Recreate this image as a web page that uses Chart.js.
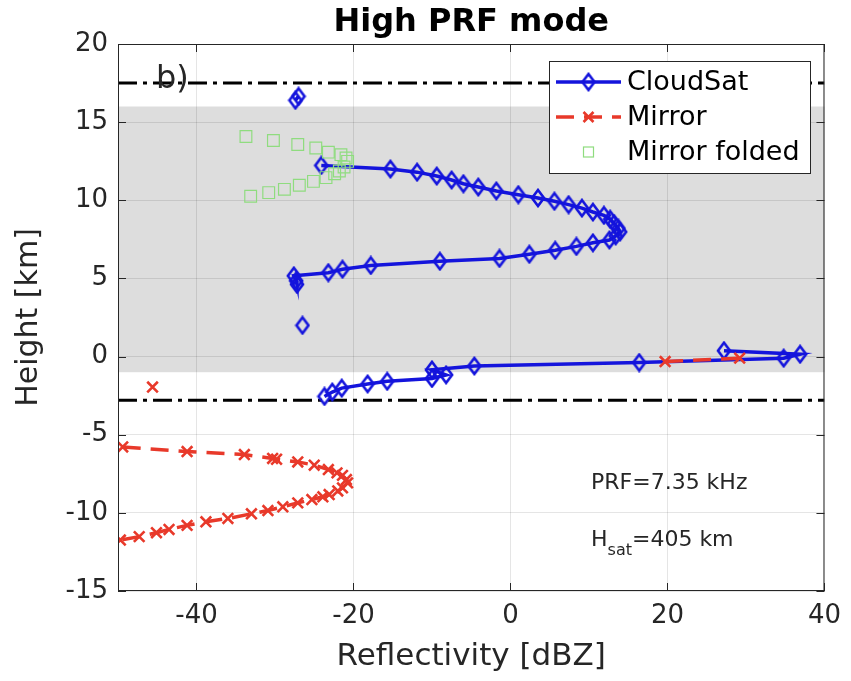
<!DOCTYPE html>
<html>
<head>
<meta charset="utf-8">
<script src="https://cdn.jsdelivr.net/npm/chart.js@4.4.1/dist/chart.umd.min.js"></script>
<style>
  html, body { margin: 0; padding: 0; background: #fff; }
  canvas { display: block; }
</style>
</head>
<body>
<canvas id="prfChart" width="851" height="681"></canvas>
<script>
// ---- data (reflectivity dBZ, height km); null = gap in the line ----
const cloudsatZ = [
  -27.0, -27.4, null,
  -24.1, -15.3, -11.9, -9.4, -7.5, -6.0, -4.1, -1.8, 1.0, 3.5, 5.6, 7.4, 9.1, 10.5, 11.9, 12.7, 13.2, 13.75, 13.97,
  13.4, 12.6, 10.5, 8.4, 5.7, 2.4, -1.4, -9.0, -17.8, -21.4, -23.2, -27.6, -27.3, -27.2, null,
  -26.5, null,
  27.2, 36.9, 34.8, 16.4, -4.6, -10.0, -8.2, -10.0, -15.7, -18.2, -21.5, -22.7, -23.7
];
const cloudsatH = [
  16.65, 16.4, null,
  12.23, 12.0, 11.8, 11.55, 11.3, 11.06, 10.85, 10.6, 10.36, 10.15, 9.94, 9.72, 9.5, 9.25, 9.04, 8.79, 8.51, 8.2, 7.98,
  7.72, 7.46, 7.28, 7.05, 6.8, 6.55, 6.28, 6.1, 5.83, 5.59, 5.37, 5.17, 4.85, 4.62, null,
  2.0, null,
  0.38, 0.15, -0.1, -0.38, -0.6, -0.85, -1.17, -1.4, -1.58, -1.75, -2.02, -2.27, -2.55
];

const mirrorZ = [
  19.7, 29.2, null,
  -45.6, null,
  -49.4, -41.2, -33.9, -30.3, -29.8, -27.1, -25.0, -23.2, -22.1, -21.4, -20.9, -20.75,
  -21.4, -22.0, -23.1, -23.9, -25.3, -27.1, -29.0, -30.9, -33.0, -36.0, -38.8, -41.2, -43.5, -45.1, -47.3, -49.7
];
const mirrorH = [
  -0.32, -0.1, null,
  -1.95, null,
  -5.78, -6.08, -6.27, -6.52, -6.57, -6.74, -6.95, -7.23, -7.44, -7.6, -7.87, -8.08,
  -8.4, -8.6, -8.83, -8.97, -9.15, -9.36, -9.61, -9.85, -10.06, -10.36, -10.57, -10.8, -11.06, -11.27, -11.52, -11.74
];

const foldedZ = [-33.7, -30.2, -27.1, -24.8, -23.2, -21.6, -20.95, -20.75, -21.2, -21.8, -22.4, -23.5, -25.1, -26.9, -28.8, -30.8, -33.1];
const foldedH = [14.08, 13.83, 13.57, 13.34, 13.08, 12.92, 12.7, 12.49, 12.13, 11.87, 11.7, 11.45, 11.21, 10.96, 10.7, 10.49, 10.26];

const refLineHeights = [17.5, -2.8];   // dash-dot lines
const bandLimits = [-1, 16];          // grey shaded height range
const xTickValues = [-40, -20, 0, 20, 40];
const yTickValues = [-15, -10, -5, 0, 5, 10, 15, 20];
const xRange = [-50, 40];
const yRange = [-15, 20];

const toPoints = (xs, ys) => xs.map((v, i) => ({ x: v, y: ys[i] }));

const FONT = "'DejaVu Sans', sans-serif";
const BLUE = '#1414dc';
const RED = '#e8392a';
const GREEN = '#8fdc7f';
const AXIS = '#262626';

// tall open diamond used as the CloudSat marker
function makeDiamond() {
  const c = document.createElement('canvas');
  c.width = 16; c.height = 20;
  const g = c.getContext('2d');
  g.strokeStyle = BLUE;
  g.lineWidth = 2.6;
  g.beginPath();
  g.moveTo(8, 2); g.lineTo(14, 10); g.lineTo(8, 18); g.lineTo(2, 10); g.closePath();
  g.stroke();
  return c;
}
const diamond = makeDiamond();

const datasets = [
  {
    label: 'Mirror folded',
    data: toPoints(foldedZ, foldedH),
    showLine: false,
    pointStyle: 'rect',
    pointRadius: 8.3,
    pointBorderWidth: 1.2,
    pointBorderColor: GREEN,
    pointBackgroundColor: 'rgba(0,0,0,0)',
    order: 1
  },
  {
    label: 'Mirror',
    data: toPoints(mirrorZ, mirrorH),
    showLine: true,
    borderColor: RED,
    borderWidth: 3.5,
    borderDash: [18, 10],
    pointStyle: 'crossRot',
    pointRadius: 7.5,
    pointBorderWidth: 2.6,
    pointBorderColor: RED,
    order: 2
  },
  {
    label: 'CloudSat',
    data: toPoints(cloudsatZ, cloudsatH),
    showLine: true,
    borderColor: BLUE,
    borderWidth: 3.5,
    pointStyle: diamond,
    order: 3
  }
];
refLineHeights.forEach((h, i) => {
  datasets.push({
    label: 'ref' + i,
    data: toPoints(xRange, [h, h]),
    showLine: true,
    borderColor: '#000',
    borderWidth: 3,
    borderDash: [19, 6, 4, 6],
    pointRadius: 0,
    order: 4
  });
});

const decor = {
  id: 'decor',
  beforeDraw(chart) {
    const { ctx, chartArea: a, scales: { y } } = chart;
    const top = y.getPixelForValue(bandLimits[1]);
    const bottom = y.getPixelForValue(bandLimits[0]);
    ctx.save();
    ctx.fillStyle = '#dddddd';
    ctx.fillRect(a.left, top, a.right - a.left, bottom - top);
    ctx.restore();
  },
  afterDraw(chart) {
    const { ctx, chartArea: a, scales: { x, y } } = chart;
    ctx.save();
    // axes box + inward ticks
    ctx.strokeStyle = AXIS;
    ctx.lineWidth = 1;
    ctx.strokeRect(a.left + 0.5, a.top + 0.5, a.right - a.left - 1, a.bottom - a.top - 1);
    ctx.beginPath();
    xTickValues.forEach(v => {
      const px = Math.round(x.getPixelForValue(v)) + 0.5;
      ctx.moveTo(px, a.bottom); ctx.lineTo(px, a.bottom - 8);
      ctx.moveTo(px, a.top); ctx.lineTo(px, a.top + 8);
    });
    yTickValues.forEach(v => {
      const py = Math.round(y.getPixelForValue(v)) + 0.5;
      ctx.moveTo(a.left, py); ctx.lineTo(a.left + 8, py);
      ctx.moveTo(a.right, py); ctx.lineTo(a.right - 8, py);
    });
    ctx.stroke();

    // title
    ctx.fillStyle = '#000';
    ctx.font = 'bold 32px ' + FONT;
    ctx.textAlign = 'center';
    ctx.textBaseline = 'alphabetic';
    ctx.fillText('High PRF mode', (a.left + a.right) / 2, 31);

    // panel letter
    ctx.fillStyle = AXIS;
    ctx.textAlign = 'left';
    ctx.font = '32px ' + FONT;
    ctx.fillText('b)', a.left + 38, 88);

    // annotations
    ctx.font = '22px ' + FONT;
    ctx.fillText('PRF=7.35 kHz', 591, 489);
    ctx.fillText('H', 591, 546);
    let w = ctx.measureText('H').width;
    ctx.font = '16px ' + FONT;
    ctx.fillText('sat', 591 + w, 555);
    w += ctx.measureText('sat').width;
    ctx.font = '22px ' + FONT;
    ctx.fillText('=405 km', 591 + w, 546);

    // legend
    const lx = 549, ly = 61, lw = 261, lh = 112;
    ctx.fillStyle = '#fff';
    ctx.fillRect(lx, ly, lw, lh);
    ctx.strokeStyle = AXIS;
    ctx.lineWidth = 1;
    ctx.strokeRect(lx + 0.5, ly + 0.5, lw, lh);
    const rows = [ly + 21, ly + 56, ly + 91];
    const x0 = lx + 7, x1 = lx + 72, xm = (x0 + x1) / 2;
    ctx.font = '27px ' + FONT;
    ctx.textBaseline = 'middle';
    // CloudSat
    ctx.strokeStyle = BLUE; ctx.lineWidth = 3.5;
    ctx.beginPath(); ctx.moveTo(x0, rows[0]); ctx.lineTo(x1, rows[0]); ctx.stroke();
    ctx.drawImage(diamond, xm - 8, rows[0] - 10);
    // Mirror
    ctx.strokeStyle = RED; ctx.lineWidth = 3.5;
    ctx.setLineDash([18, 10]);
    ctx.beginPath(); ctx.moveTo(x0, rows[1]); ctx.lineTo(x1, rows[1]); ctx.stroke();
    ctx.setLineDash([]);
    ctx.lineWidth = 2.6;
    ctx.beginPath();
    ctx.moveTo(xm - 5, rows[1] - 5); ctx.lineTo(xm + 5, rows[1] + 5);
    ctx.moveTo(xm + 5, rows[1] - 5); ctx.lineTo(xm - 5, rows[1] + 5);
    ctx.stroke();
    // Mirror folded
    ctx.strokeStyle = GREEN; ctx.lineWidth = 1.2;
    ctx.strokeRect(xm - 5, rows[2] - 5, 10, 10);
    ctx.fillStyle = '#000';
    ['CloudSat', 'Mirror', 'Mirror folded'].forEach((t, i) => ctx.fillText(t, lx + 78, rows[i] + 1));
    ctx.restore();
  }
};

const ctx = document.getElementById('prfChart').getContext('2d');
new Chart(ctx, {
  type: 'scatter',
  data: { datasets },
  options: {
    responsive: false,
    animation: false,
    devicePixelRatio: 1,
    layout: { padding: { left: 0, right: 25, top: 44, bottom: 0 } },
    plugins: { legend: { display: false }, tooltip: { enabled: false }, title: { display: false } },
    scales: {
      x: {
        type: 'linear',
        min: xRange[0],
        max: xRange[1],
        afterBuildTicks: s => { s.ticks = xTickValues.map(v => ({ value: v })); },
        afterFit: s => { s.height = 90; },
        grid: { color: 'rgba(0,0,0,0.1)', drawTicks: false },
        border: { display: false },
        ticks: { color: AXIS, font: { family: FONT, size: 26 }, padding: 10, maxRotation: 0 },
        title: { display: true, text: 'Reflectivity [dBZ]', color: AXIS, font: { family: FONT, size: 31 }, padding: { top: 0, bottom: 5 } }
      },
      y: {
        type: 'linear',
        min: yRange[0],
        max: yRange[1],
        afterBuildTicks: s => { s.ticks = yTickValues.map(v => ({ value: v })); },
        afterFit: s => { s.width = 118; },
        grid: { color: 'rgba(0,0,0,0.1)', drawTicks: false },
        border: { display: false },
        ticks: { color: AXIS, font: { family: FONT, size: 26 }, padding: 10 },
        title: { display: true, text: 'Height [km]', color: AXIS, font: { family: FONT, size: 30 }, padding: { top: 11, bottom: 0 } }
      }
    }
  },
  plugins: [decor]
});
</script>
</body>
</html>
